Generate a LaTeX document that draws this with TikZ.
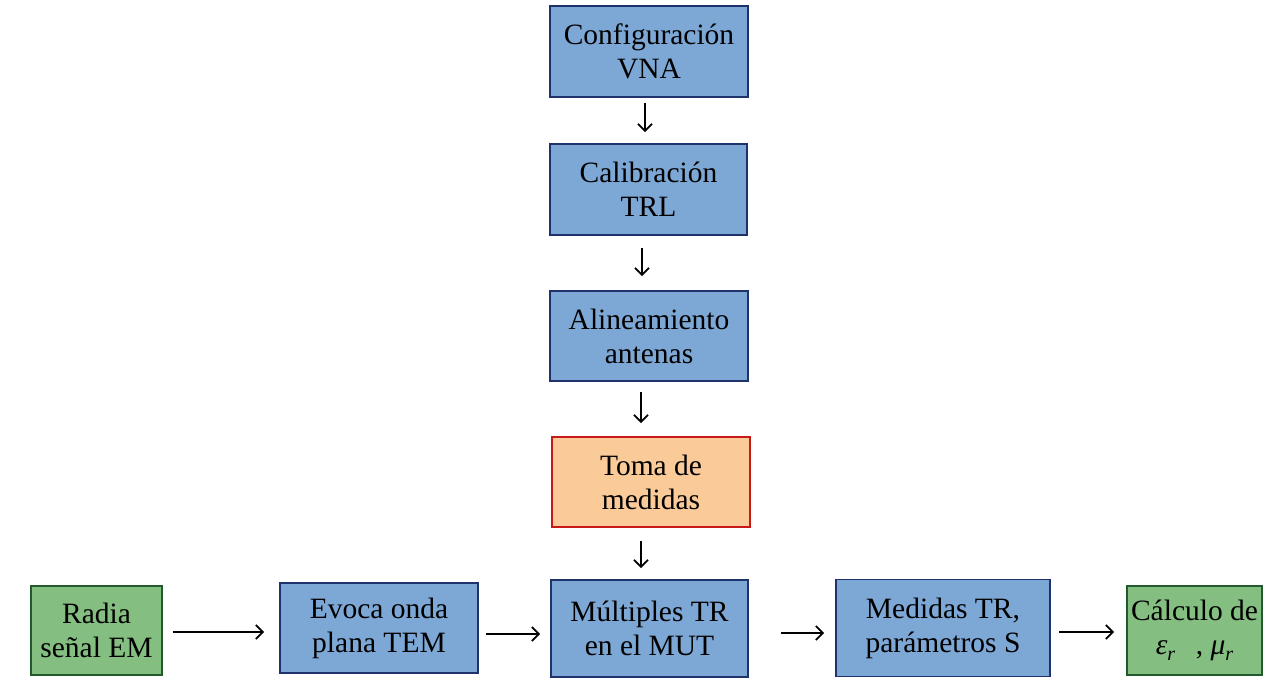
\documentclass[tikz,border=0pt]{standalone}
\usepackage{fontspec}
\setmainfont{Liberation Serif}
\usetikzlibrary{arrows.meta}
\definecolor{boxblue}{RGB}{125,167,213}
\definecolor{boxblueline}{RGB}{30,50,110}
\definecolor{boxgreen}{RGB}{132,190,128}
\definecolor{boxgreenline}{RGB}{35,90,45}
\definecolor{boxorange}{RGB}{250,202,152}
\definecolor{boxred}{RGB}{200,25,25}
\tikzset{
  base/.style={draw, line width=1.8pt, align=center, inner sep=0pt,
    font=\fontsize{29.5}{34}\selectfont},
  bluebox/.style={base, fill=boxblue, draw=boxblueline},
  greenbox/.style={base, fill=boxgreen, draw=boxgreenline},
  orangebox/.style={base, fill=boxorange, draw=boxred},
  arr/.style={line width=1.8pt, -{Straight Barb[length=7pt,width=14pt,line width=1.8pt]}}
}
\begin{document}
\begin{tikzpicture}[x=1pt,y=1pt]
\useasboundingbox (0,0) rectangle (1280,687);
\node[bluebox, minimum width=198, minimum height=91] (conf) at (649,635.5) {Configuración\\VNA};
\node[bluebox, minimum width=197, minimum height=91] (cal) at (648.5,497.5) {Calibración\\TRL};
\node[bluebox, minimum width=198, minimum height=90] (ali) at (649,351) {Alineamiento\\antenas};
\node[orangebox, minimum width=198, minimum height=90] (toma) at (651,205) {Toma de\\medidas};
\node[greenbox, minimum width=131, minimum height=89] (radia) at (96.5,56.5) {Radia\\señal EM};
\node[bluebox, minimum width=198, minimum height=90] (evoca) at (379,59) {Evoca onda\\plana TEM};
\node[bluebox, minimum width=197, minimum height=97] (mult) at (649.5,58.5) {Múltiples TR\\en el MUT};
\node[bluebox, minimum width=214, minimum height=97] (med) at (943,59) {Medidas TR,\\parámetros S};
\node[greenbox, minimum width=135, minimum height=89] (calc) at (1194.5,56.5)
  {Cálculo de\\{\itshape ε\raisebox{-0.22em}{\fontsize{20}{20}\selectfont r}}\hspace{0.7em}, {\itshape μ\raisebox{-0.22em}{\fontsize{20}{20}\selectfont r}}};
% vertical arrows
\draw[arr] ([xshift=-4pt,yshift=-5pt]conf.south) -- ([xshift=-3.5pt,yshift=11pt]cal.north);
\draw[arr] ([xshift=-6.5pt,yshift=-12pt]cal.south) -- ([xshift=-7pt,yshift=14pt]ali.north);
\draw[arr] ([xshift=-8pt,yshift=-10pt]ali.south) -- ([xshift=-10pt,yshift=13pt]toma.north);
\draw[arr] ([xshift=-10pt,yshift=-13pt]toma.south) -- ([xshift=-8.5pt,yshift=11pt]mult.north);
% horizontal arrows
\draw[arr] ([xshift=10pt,yshift=-1.5pt]radia.east) -- ([xshift=-15pt,yshift=-4pt]evoca.west);
\draw[arr] ([xshift=7pt,yshift=-6pt]evoca.east) -- ([xshift=-10pt,yshift=-5.5pt]mult.west);
\draw[arr] ([xshift=32pt,yshift=-4.5pt]mult.east) -- ([xshift=-11pt,yshift=-5pt]med.west);
\draw[arr] ([xshift=8pt,yshift=-4pt]med.east) -- ([xshift=-12pt,yshift=-1.5pt]calc.west);
\end{tikzpicture}
\end{document}
